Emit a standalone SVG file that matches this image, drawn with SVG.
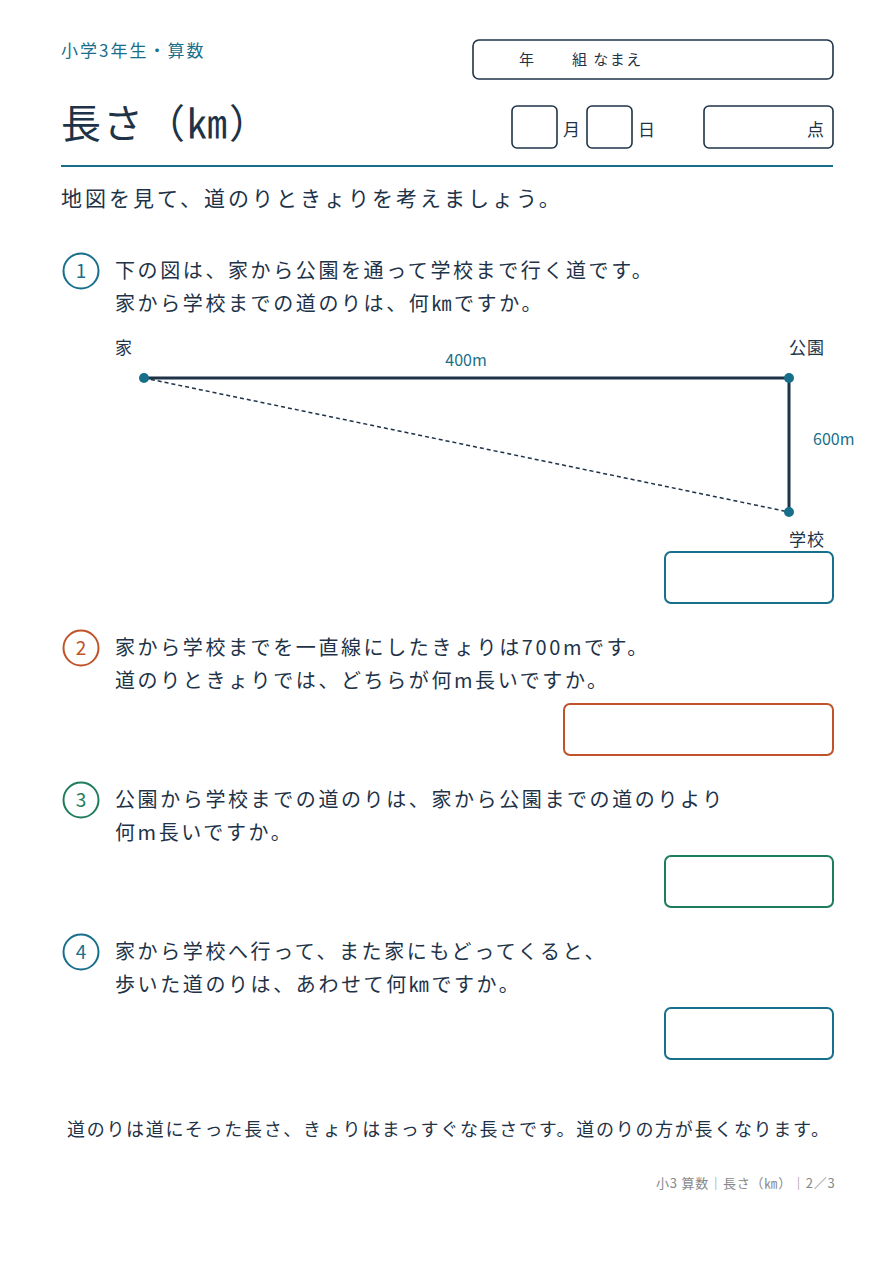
<svg xmlns="http://www.w3.org/2000/svg" width="893" height="1263" viewBox="0 0 893 1263">
<style>
text{font-family:"Noto Sans CJK JP","Noto Sans",sans-serif;fill:#1e3348}
.q{font-size:20px;letter-spacing:2.6px}
.teal{fill:#176f8c}
.box{fill:none;stroke:#1e3348;stroke-width:1.6}
.num{font-size:19px;text-anchor:middle}
</style>
<rect width="893" height="1263" fill="#fff"/>
<g id="header">
<text x="61" y="57" font-size="17" class="teal" letter-spacing="2">小学3年生・算数</text>
<rect x="473" y="40" width="360" height="39" rx="6" class="box"/>
<text x="519" y="65" font-size="15">年</text>
<text x="572" y="65" font-size="15" letter-spacing="1.5">組 なまえ</text>
<text x="61" y="138" font-size="40" letter-spacing="2">長さ（㎞）</text>
<rect x="512" y="106" width="45" height="42" rx="5" class="box"/>
<text x="563" y="136" font-size="17">月</text>
<rect x="587" y="106" width="45" height="42" rx="5" class="box"/>
<text x="638" y="136" font-size="17">日</text>
<rect x="704" y="106" width="129" height="42" rx="5" class="box"/>
<text x="807" y="136" font-size="17">点</text>
<line x1="61" y1="166" x2="833" y2="166" stroke="#176f8c" stroke-width="2"/>
<text x="61" y="206" font-size="21" letter-spacing="3">地図を見て、道のりときょりを考えましょう。</text>
</g>
<g id="q1">
<circle cx="81" cy="271" r="17.5" fill="none" stroke="#176f8c" stroke-width="2"/>
<text x="81" y="278" class="num teal">1</text>
<text x="115" y="278" class="q">下の図は、家から公園を通って学校まで行く道です。</text>
<text x="115" y="311" class="q">家から学校までの道のりは、何㎞ですか。</text>
<rect x="665" y="552" width="168" height="51" rx="6" fill="none" stroke="#176f8c" stroke-width="2"/>
</g>
<g id="map">
<text x="115" y="354" font-size="17">家</text>
<text x="789" y="354" font-size="17" letter-spacing="1">公園</text>
<text x="789" y="546" font-size="17" letter-spacing="1">学校</text>
<text x="466" y="366" font-size="16" class="teal" text-anchor="middle">400m</text>
<text x="813" y="445" font-size="16" class="teal">600m</text>
</g>
<g id="connectors">
<line x1="144" y1="378" x2="789" y2="378" stroke="#1e3348" stroke-width="3"/>
<line x1="789" y1="378" x2="789" y2="512" stroke="#1e3348" stroke-width="3"/>
<line x1="144" y1="378" x2="789" y2="512" stroke="#1e3348" stroke-width="1.5" stroke-dasharray="4,3"/>
<circle cx="144" cy="378" r="5" fill="#176f8c"/>
<circle cx="789" cy="378" r="5" fill="#176f8c"/>
<circle cx="789" cy="512" r="5" fill="#176f8c"/>
</g>
<g id="q2">
<circle cx="81" cy="648" r="17.5" fill="none" stroke="#c0532a" stroke-width="2"/>
<text x="81" y="655" class="num" style="fill:#c0532a">2</text>
<text x="115" y="655" class="q">家から学校までを一直線にしたきょりは700mです。</text>
<text x="115" y="688" class="q">道のりときょりでは、どちらが何m長いですか。</text>
<rect x="564" y="704" width="269" height="51" rx="6" fill="none" stroke="#c0532a" stroke-width="2"/>
</g>
<g id="q3">
<circle cx="81" cy="800" r="17.5" fill="none" stroke="#1f7d5c" stroke-width="2"/>
<text x="81" y="807" class="num" style="fill:#1f7d5c">3</text>
<text x="115" y="807" class="q">公園から学校までの道のりは、家から公園までの道のりより</text>
<text x="115" y="840" class="q">何m長いですか。</text>
<rect x="665" y="856" width="168" height="51" rx="6" fill="none" stroke="#1f7d5c" stroke-width="2"/>
</g>
<g id="q4">
<circle cx="81" cy="952" r="17.5" fill="none" stroke="#176f8c" stroke-width="2"/>
<text x="81" y="959" class="num teal">4</text>
<text x="115" y="959" class="q">家から学校へ行って、また家にもどってくると、</text>
<text x="115" y="992" class="q">歩いた道のりは、あわせて何㎞ですか。</text>
<rect x="665" y="1008" width="168" height="51" rx="6" fill="none" stroke="#176f8c" stroke-width="2"/>
</g>
<g id="footer">
<text x="67" y="1136" font-size="18" letter-spacing="1.7">道のりは道にそった長さ、きょりはまっすぐな長さです。道のりの方が長くなります。</text>
<text x="656" y="1188" font-size="13" letter-spacing="0.8" style="fill:#888">小3 算数｜長さ（㎞）｜2／3</text>
</g>
</svg>
